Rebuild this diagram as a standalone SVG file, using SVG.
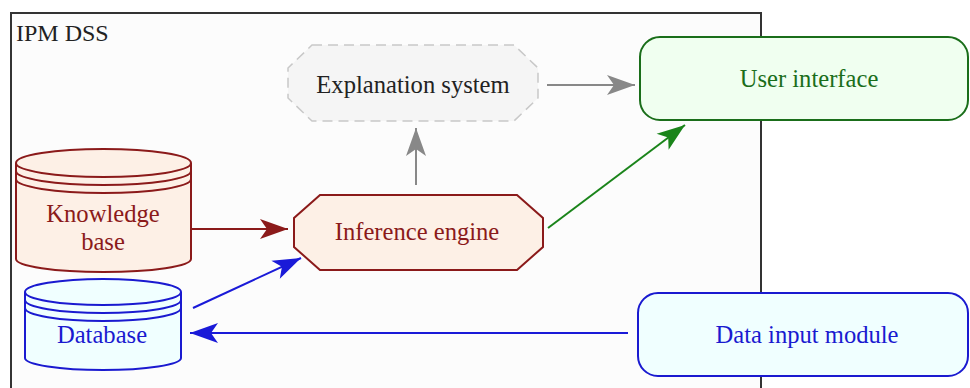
<svg xmlns="http://www.w3.org/2000/svg" width="970" height="388" viewBox="0 0 970 388">
<style>
text{font-family:"Liberation Serif","Times New Roman",serif;font-size:24.6px;text-anchor:middle}
.edge{fill:none;stroke-width:2}
</style>
<defs>
<marker id="ag" markerUnits="userSpaceOnUse" markerWidth="32" markerHeight="24" viewBox="-1 -12 32 24" refX="28" refY="0" orient="auto"><path d="M0,-10 L28,0 L0,10 L7,0 Z" fill="#888"/></marker>
<marker id="ar" markerUnits="userSpaceOnUse" markerWidth="32" markerHeight="24" viewBox="-1 -12 32 24" refX="28" refY="0" orient="auto"><path d="M0,-10 L28,0 L0,10 L7,0 Z" fill="#8b1a1a"/></marker>
<marker id="agr" markerUnits="userSpaceOnUse" markerWidth="32" markerHeight="24" viewBox="-1 -12 32 24" refX="28" refY="0" orient="auto"><path d="M0,-10 L28,0 L0,10 L7,0 Z" fill="#1a841a"/></marker>
<marker id="ab" markerUnits="userSpaceOnUse" markerWidth="32" markerHeight="24" viewBox="-1 -12 32 24" refX="28" refY="0" orient="auto"><path d="M0,-10 L28,0 L0,10 L7,0 Z" fill="#1a1ad8"/></marker>
</defs>
<rect width="970" height="388" fill="#fff"/>
<g id="cluster_ipm">
<rect x="11" y="13" width="750" height="400" fill="#fcfcfc" stroke="#333" stroke-width="2"/>
<text x="16" y="41" style="text-anchor:start;font-size:24px" fill="#222">IPM DSS</text>
</g>
<g id="edges">
<path class="edge" d="M547,85 L635,85" stroke="#888" marker-end="url(#ag)"/>
<path class="edge" d="M416,185 L416,128" stroke="#888" marker-end="url(#ag)"/>
<path class="edge" d="M191,229 L288,229" stroke="#8b1a1a" marker-end="url(#ar)"/>
<path class="edge" d="M548,228 L685,125" stroke="#1a841a" marker-end="url(#agr)"/>
<path class="edge" d="M193,308 L301,258" stroke="#1a1ad8" marker-end="url(#ab)"/>
<path class="edge" d="M628,333 L190,333" stroke="#1a1ad8" marker-end="url(#ab)"/>
</g>
<g id="explanation">
<polygon points="312,45 514,45 538,68 538,98 514,121 312,121 288,98 288,68" fill="#f5f5f5" stroke="#c8c8c8" stroke-width="1.5" stroke-dasharray="10,6"/>
<text x="413" y="93" fill="#222">Explanation system</text>
</g>
<g id="user_interface">
<rect x="640" y="37" width="328" height="83" rx="20" fill="#f0fff0" stroke="#1a6e1a" stroke-width="2"/>
<text x="809" y="87" fill="#1a6e1a">User interface</text>
</g>
<g id="knowledge_base" fill="none" stroke="#8b1a1a" stroke-width="2">
<path d="M16,163 A87.5,14 0 0 1 191,163 L191,259 A87.5,13 0 0 1 16,259 Z" fill="#fdf0e6"/>
<path d="M16,163 A87.5,14 0 0 0 191,163"/>
<path d="M16,171 A87.5,14 0 0 0 191,171"/>
<path d="M16,179 A87.5,14 0 0 0 191,179"/>
<text x="103" y="222" fill="#8b1a1a" stroke="none">Knowledge</text>
<text x="103" y="250" fill="#8b1a1a" stroke="none">base</text>
</g>
<g id="inference_engine">
<polygon points="320,195 517,195 543,218 543,247 517,270 320,270 294,247 294,218" fill="#fdf0e6" stroke="#8b1a1a" stroke-width="2"/>
<text x="417" y="240" fill="#8b1a1a">Inference engine</text>
</g>
<g id="database" fill="none" stroke="#1a1ad0" stroke-width="2">
<path d="M25,292 A78,13 0 0 1 181,292 L181,358 A78,12 0 0 1 25,358 Z" fill="#f0ffff"/>
<path d="M25,292 A78,13 0 0 0 181,292"/>
<path d="M25,300 A78,13 0 0 0 181,300"/>
<path d="M25,308 A78,13 0 0 0 181,308"/>
<text x="102" y="343" fill="#1a1ad0" stroke="none">Database</text>
</g>
<g id="data_input">
<rect x="638" y="293" width="330" height="83" rx="20" fill="#f0ffff" stroke="#1a1ad0" stroke-width="2"/>
<text x="807" y="343" fill="#1a1ad0">Data input module</text>
</g>
</svg>
